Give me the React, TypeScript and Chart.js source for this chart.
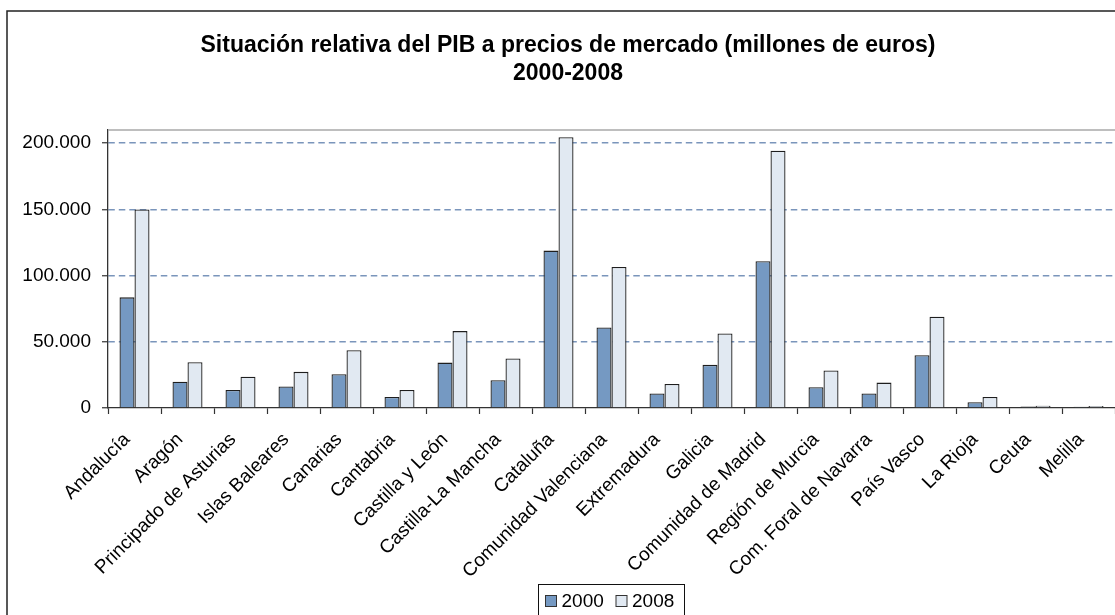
import React, { useEffect, useRef } from "react";
import { Chart, registerables } from "chart.js";

Chart.register(...registerables);

const titleLines = [
  "Situación relativa del PIB a precios de mercado (millones de euros)",
  "2000-2008",
];

const regions = [
  "Andalucía",
  "Aragón",
  "Principado de Asturias",
  "Islas Baleares",
  "Canarias",
  "Cantabria",
  "Castilla y León",
  "Castilla-La Mancha",
  "Cataluña",
  "Comunidad Valenciana",
  "Extremadura",
  "Galicia",
  "Comunidad de Madrid",
  "Región de Murcia",
  "Com. Foral de Navarra",
  "País Vasco",
  "La Rioja",
  "Ceuta",
  "Melilla",
];

const seriesLabels = ["2000", "2008"];

const values2000 = [
  83600, 19900, 13600, 16200, 25500, 8300, 34300, 21000, 118900, 60900, 10900,
  32600, 110900, 15700, 10900, 39900, 4300, 1100, 1000,
];

const values2008 = [
  150000, 34600, 23700, 27300, 43700, 13600, 58100, 37400, 204500, 106600,
  18200, 56300, 194400, 28300, 19200, 68900, 8300, 1700, 1600,
];

const yTicks = [0, 50000, 100000, 150000, 200000];
const yMax = 210000;

const FONT = "'Liberation Sans', Arial, sans-serif";
const fill2000 = "#7599c2";
const fill2008 = "#e1e9f2";

const fmt = (v: number) =>
  Math.round(v)
    .toString()
    .replace(/\B(?=(\d{3})+(?!\d))/g, ".");

const decorPlugin = {
  id: "decor",
  beforeDraw(chart: any) {
    const ctx = chart.ctx;
    ctx.save();
    ctx.fillStyle = "#ffffff";
    ctx.fillRect(0, 0, chart.width, chart.height);
    // outer frame
    ctx.strokeStyle = "#222";
    ctx.lineWidth = 1.5;
    ctx.strokeRect(7, 11, chart.width - 14, chart.height - 18);
    // title
    ctx.fillStyle = "#000";
    ctx.font = `bold 23px ${FONT}`;
    ctx.textAlign = "center";
    ctx.textBaseline = "alphabetic";
    const baselines = [51.5, 80];
    titleLines.forEach((t, i) => {
      ctx.fillText(t, 568, baselines[i]);
    });
    ctx.restore();
  },
  beforeDatasetsDraw(chart: any) {
    const { ctx, chartArea } = chart;
    ctx.save();
    ctx.strokeStyle = "#a8a8a8";
    ctx.lineWidth = 1.5;
    ctx.beginPath();
    ctx.moveTo(chartArea.left, chartArea.top);
    ctx.lineTo(chartArea.right + 20, chartArea.top);
    ctx.stroke();
    ctx.restore();
  },
  afterDraw(chart: any) {
    const ctx = chart.ctx;
    ctx.save();
    // legend
    const lx = 538.5;
    const ly = 584.5;
    ctx.strokeStyle = "#111";
    ctx.lineWidth = 1;
    ctx.fillStyle = "#fff";
    ctx.fillRect(lx, ly, 146, 36);
    ctx.strokeRect(lx, ly, 146, 36);
    ctx.font = `19px ${FONT}`;
    ctx.textBaseline = "middle";
    ctx.textAlign = "left";
    const items = [
      { x: 545.5, color: fill2000, label: seriesLabels[0] },
      { x: 616, color: fill2008, label: seriesLabels[1] },
    ];
    items.forEach((it) => {
      ctx.fillStyle = it.color;
      ctx.fillRect(it.x, 595.5, 11, 11);
      ctx.strokeStyle = "#333";
      ctx.strokeRect(it.x, 595.5, 11, 11);
      ctx.fillStyle = "#000";
      ctx.fillText(it.label, it.x + 16, 602);
    });
    ctx.restore();
  },
};

export default function App() {
  const ref = useRef<HTMLCanvasElement | null>(null);

  useEffect(() => {
    if (!ref.current) return;
    const chart = new Chart(ref.current, {
      type: "bar",
      data: {
        labels: regions,
        datasets: [
          {
            label: seriesLabels[0],
            data: values2000,
            backgroundColor: fill2000,
            borderColor: "#1e1e1e",
            borderWidth: 1.3,
            categoryPercentage: 0.566,
            barPercentage: 1.0,
          },
          {
            label: seriesLabels[1],
            data: values2008,
            backgroundColor: fill2008,
            borderColor: "#1e1e1e",
            borderWidth: 1.3,
            categoryPercentage: 0.566,
            barPercentage: 1.0,
          },
        ],
      },
      options: {
        responsive: false,
        animation: false,
        devicePixelRatio: 1,
        layout: { padding: { top: 130, left: 0, right: 23, bottom: 0 } },
        plugins: {
          legend: { display: false },
          title: { display: false },
          tooltip: { enabled: false },
        },
        scales: {
          x: {
            grid: {
              display: true,
              drawOnChartArea: false,
              drawTicks: true,
              tickLength: 6,
              tickColor: "#333",
              tickWidth: 1.2,
              offset: true,
            },
            border: { display: true, color: "#333", width: 1.3 },
            ticks: {
              autoSkip: false,
              maxRotation: 45,
              minRotation: 45,
              color: "#000",
              padding: 7,
              font: { family: FONT, size: 19 },
              callback: (_v: any, i: number) => regions[i] + "  ",
            },
            afterFit: (s: any) => {
              s.height = 224;
            },
          },
          y: {
            min: 0,
            max: yMax,
            afterBuildTicks: (s: any) => {
              s.ticks = yTicks.map((v) => ({ value: v }));
            },
            grid: {
              color: (c: any) =>
                c.tick && c.tick.value === 0 ? "rgba(0,0,0,0)" : "#7a95bb",
              lineWidth: 1.5,
              drawTicks: true,
              tickLength: 6,
              tickColor: "#333",
              tickWidth: 1.2,
              tickBorderDash: [],
            },
            border: {
              display: true,
              color: "#333",
              width: 1.3,
              dash: [6.5, 4],
            },
            ticks: {
              color: "#000",
              padding: 11,
              font: { family: FONT, size: 19 },
              callback: (v: any) => fmt(Number(v)),
            },
            afterFit: (s: any) => {
              s.width = 108;
            },
          },
        },
      },
      plugins: [decorPlugin],
    });
    return () => chart.destroy();
  }, []);

  return (
    <div
      style={{
        position: "fixed",
        left: 0,
        top: 0,
        width: 1115,
        height: 615,
        overflow: "hidden",
        background: "#fff",
      }}
    >
      <canvas
        ref={ref}
        width={1138}
        height={632}
        style={{ width: 1138, height: 632, display: "block" }}
      />
    </div>
  );
}
